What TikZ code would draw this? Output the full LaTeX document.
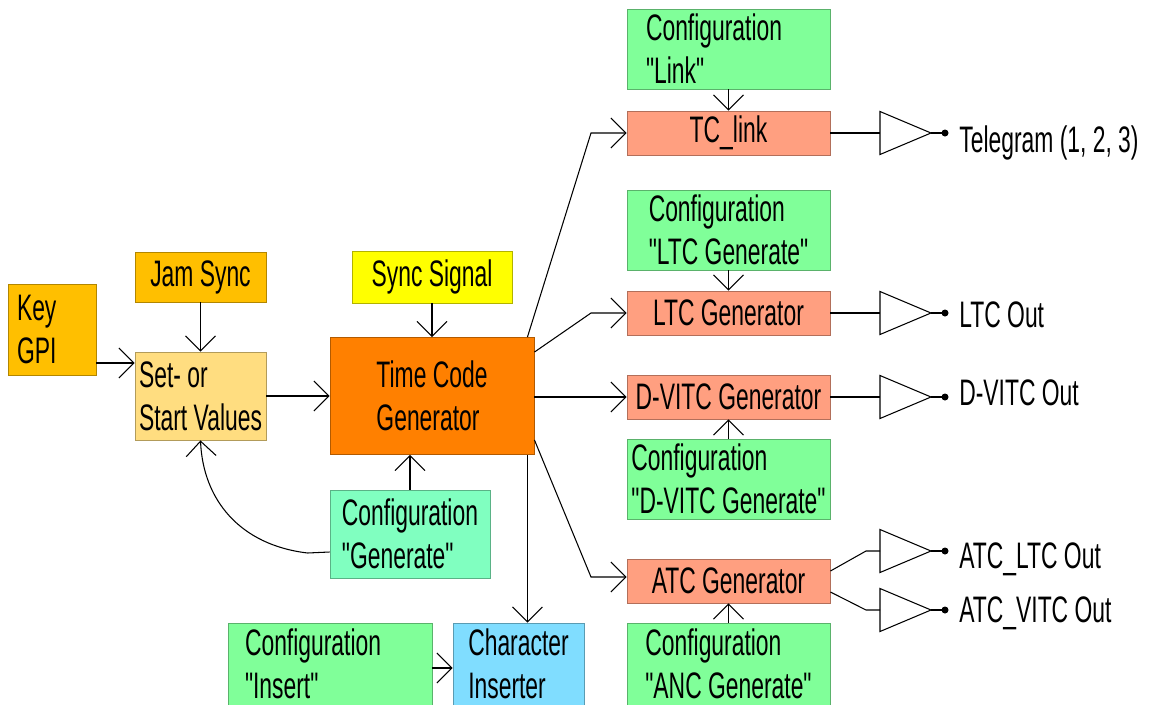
\documentclass[tikz,border=0pt]{standalone}
\usepackage{fontspec}
\setmainfont{Liberation Sans}[FakeStretch=0.62, Ligatures=TeXOff]
\usetikzlibrary{arrows.meta}
\definecolor{amber}{HTML}{FFBF00}
\definecolor{setc}{HTML}{FFDD80}
\definecolor{yel}{HTML}{FFFF00}
\definecolor{org}{HTML}{FF8000}
\definecolor{mint}{HTML}{80FFC0}
\definecolor{grn}{HTML}{80FF99}
\definecolor{salm}{HTML}{FF9F80}
\definecolor{sky}{HTML}{80DDFF}
\begin{document}
\begin{tikzpicture}[x=0.02cm,y=-0.02cm,
  font=\fontsize{21}{24.5}\selectfont,
  box/.style={draw=#1!70!black, fill=#1, line width=0.5pt, inner xsep=2pt, inner ysep=0pt, align=left},
  sz/.style 2 args={minimum width=#1*0.02cm, minimum height=#2*0.02cm},
  arr/.style={-{Straight Barb[length=8.5pt,width=17pt]}, line width=0.6pt},
  ln/.style={line width=0.6pt}]
\fill[white] (0,0) rectangle (1154,704);
\useasboundingbox (0,0) rectangle (1154,704);

% boxes
\node[box=amber, sz={88}{91}, text width=1.4cm, inner xsep=0.18cm] (key) at (52,329.5) {Key\\GPI};
\node[box=amber, sz={131}{50}] (jam) at (200.5,277) {Jam Sync};
\node[box=setc, sz={131}{88}] (set) at (200.5,396) {Set- or\\Start Values};
\node[box=yel, sz={160}{52}] (sync) at (432,277) {Sync Signal};
\node[box=org, sz={204}{117}] (tcg) at (432,396) {Time Code\\Generator};
\node[box=mint, sz={160}{88}] (cg) at (410,534) {Configuration\\"Generate"};
\node[box=grn, sz={204}{82}, text width=3.4cm, inner xsep=0.34cm] (ci) at (330,664) {Configuration\\"Insert"};
\node[box=sky, sz={131}{82}] (chr) at (518.5,664) {Character\\Inserter};
\node[box=grn, sz={203}{80}, text width=3.3cm, inner xsep=0.38cm] (cl) at (728.5,49) {Configuration\\"Link"};
\node[box=salm, sz={203}{44}] (tc) at (728.5,133) {TC\_link};
\node[box=grn, sz={203}{80}] (clt) at (728.5,230) {Configuration\\"LTC Generate"};
\node[box=salm, sz={203}{44}] (ltc) at (728.5,313) {LTC Generator};
\node[box=salm, sz={203}{44}] (dv) at (728.5,397) {D-VITC Generator};
\node[box=grn, sz={203}{80}] (cdv) at (728.5,479) {Configuration\\"D-VITC Generate"};
\node[box=salm, sz={203}{44}] (atc) at (728.5,581) {ATC Generator};
\node[box=grn, sz={203}{82}] (canc) at (728.5,664) {Configuration\\"ANC Generate"};

% connectors
\draw[arr] ([yshift=-0.67cm]key.east) coordinate (k0) -- (k0 -| set.west);
\draw[arr] (jam.south) -- (set.north);
\draw[arr] (set.east) -- (tcg.west);
\draw[arr] (sync.south) -- (tcg.north);
\draw[arr] (cg.north) -- (cg.north |- tcg.south);
\draw[arr] ([yshift=-0.36cm]cg.west) -- ++(-22,1) .. controls (240,545) and (203,500) .. (set.south);
\draw[arr] ([xshift=-0.14cm]tcg.north east) -- (591,133) -- (tc.west);
\draw[arr] ([yshift=-0.3cm]tcg.north east) -- (591,313) -- (ltc.west);
\draw[arr] (tcg.east |- dv.west) -- (dv.west);
\draw[arr] ([yshift=0.3cm]tcg.south east) -- (591,577) -- ([yshift=0.08cm]atc.west);
\draw[arr] ([xshift=-0.14cm]tcg.south east) coordinate (c5) -- (c5 |- chr.north);
\draw[arr] ([yshift=-0.08cm]ci.east) coordinate (q) -- (q -| chr.west);
\draw[arr] (cl.south) -- (tc.north);
\draw[arr] (clt.south) -- (ltc.north);
\draw[arr] (cdv.north) -- (dv.south);
\draw[arr] (canc.north) -- (atc.south);

% output buffers
\foreach \n/\yy/\bl/\t in {b1/133/152/{Telegram (1, 2, 3)}, b2/313/327/{LTC Out}, b3/397/405/{D-VITC Out}, b4/551/568/{ATC\_LTC Out}, b5/610/622/{ATC\_VITC Out}}
{
  \coordinate (\n) at (880,\yy);
  \draw[ln] (\n) ++(0,-21.5) -- ++(0,43) -- ++(51,-21.5) coordinate (o\n) -- cycle;
  \draw[ln] (o\n) -- ++(14,0) coordinate (d\n);
  \fill (d\n) circle (0.07cm);
  \node[anchor=base west, inner sep=0] (t\n) at (959,\bl) {\t};
}
\draw[ln] (tc.east) -- (b1);
\draw[ln] (ltc.east) -- (b2);
\draw[ln] (dv.east) -- (b3);
\draw[ln] ([yshift=0.2cm]atc.east) -- (866,551) -- (b4);
\draw[ln] ([yshift=-0.22cm]atc.east) -- (866,610) -- (b5);
\end{tikzpicture}
\end{document}
